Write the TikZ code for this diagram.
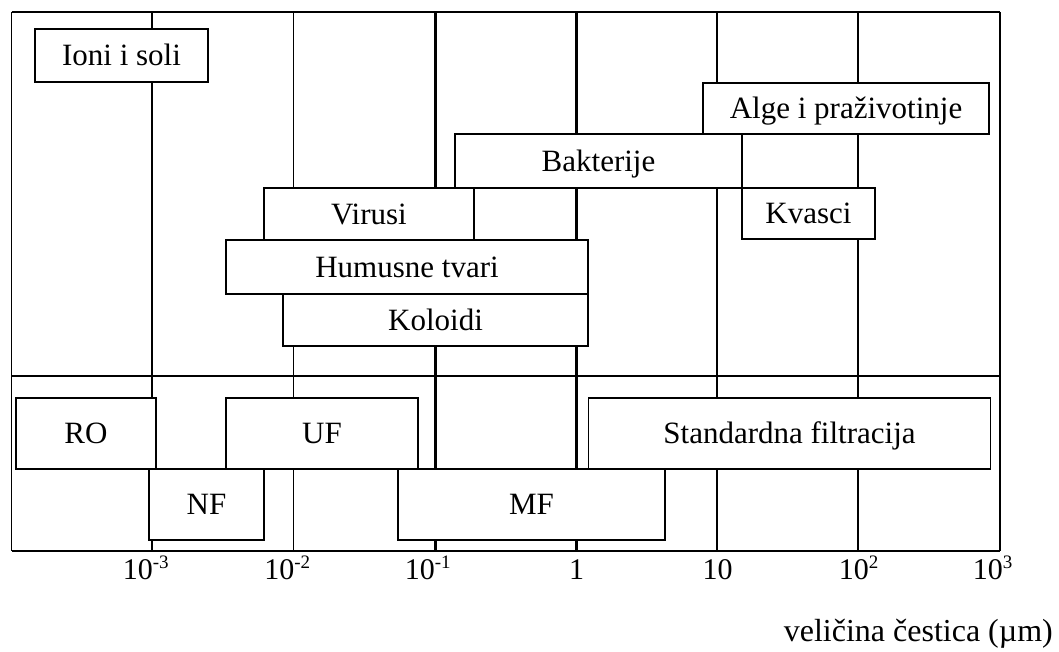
\documentclass[tikz,border=0pt]{standalone}
\usepackage{fontspec}
\setmainfont{Liberation Serif}
\newcommand\myexp[1]{\rlap{\raisebox{11pt}{\fontsize{19}{20}\selectfont #1}}}
\tikzset{
  bx/.style={draw=black, fill=white, line width=1.4pt, inner sep=0pt, outer sep=0pt,
    font=\fontsize{31}{36}\selectfont, text height=20.5pt, text depth=0pt},
  thickline/.style={line width=2.5pt},
  thinline/.style={line width=1.5pt},
  ticklab/.style={font=\fontsize{30}{34}\selectfont, anchor=base east, inner sep=0pt},
  ticklabc/.style={font=\fontsize{30}{34}\selectfont, anchor=base, inner sep=0pt},
}
\begin{document}
\begin{tikzpicture}[x=1pt,y=-1pt]
\useasboundingbox (0,0) rectangle (1059,652);
% frame corners
\coordinate (tl) at (11.5,12);
\coordinate (tr) at (1000,12);
\coordinate (bl) at (11.5,551);
\coordinate (br) at (1000,551);
% grid lines
\draw[thinline] (152,12) -- (152,551);
\draw[thinline] (293.5,12) -- (293.5,551);
\draw[thickline] (435.5,12) -- (435.5,551);
\draw[thickline] (576.5,12) -- (576.5,551);
\draw[thickline] (717,12) -- (717,551);
\draw[thickline] (858,12) -- (858,551);
% frame
\draw[thinline] (tl) -- (bl);
\draw[line width=2pt] (tl) -- (tr);
\draw[thickline] (tr) -- (br);
\draw[line width=1.7pt] (bl) -- (br);
\draw[line width=2.6pt] (11.5,376) -- (1000,376);
% particle boxes
\node[bx, minimum width=173pt, minimum height=53pt] (ioni) at (121.5,55.5) {Ioni i soli};
\node[bx, minimum width=286pt, minimum height=51pt] (alge) at (846,108.5) {Alge i praživotinje};
\node[bx, minimum width=287pt, minimum height=54pt] (bakt) at (598.5,161) {Bakterije};
\node[bx, minimum width=210pt, minimum height=52pt] (virusi) at (369,214) {Virusi};
\node[bx, minimum width=133pt, minimum height=51pt] (kvasci) at (808.5,213.5) {Kvasci};
\node[bx, minimum width=362pt, minimum height=54pt] (humus) at (407,267) {Humusne tvari};
\node[bx, minimum width=305pt, minimum height=52pt] (koloidi) at (435.5,320) {Koloidi};
% process boxes
\node[bx, minimum width=140pt, minimum height=71pt] (ro) at (86,433.5) {RO};
\node[bx, minimum width=192pt, minimum height=71pt] (uf) at (322,433.5) {UF};
\node[bx, minimum width=402pt, minimum height=71pt] (std) at (789.5,433.5) {Standardna filtracija};
\node[bx, minimum width=115pt, minimum height=71pt] (nf) at (206.5,504.5) {NF};
\node[bx, minimum width=267pt, minimum height=71pt] (mf) at (531.5,504.5) {MF};
% tick labels
\node[ticklab] (t1) at (153,579) {10\myexp{-3}};
\node[ticklab] (t2) at (294.5,579) {10\myexp{-2}};
\node[ticklab] (t3) at (435,579) {10\myexp{-1}};
\node[ticklabc] (t4) at (576.5,579) {1};
\node[ticklabc] (t5) at (717.5,579) {10};
\node[ticklab] (t6) at (869,579) {10\myexp{2}};
\node[ticklab] (t7) at (1003,579) {10\myexp{3}};
% axis title
\node[font=\fontsize{32}{36}\selectfont, anchor=base east, inner sep=0pt] (axis) at (1053,641) {veličina čestica (µm)};
\end{tikzpicture}
\end{document}
